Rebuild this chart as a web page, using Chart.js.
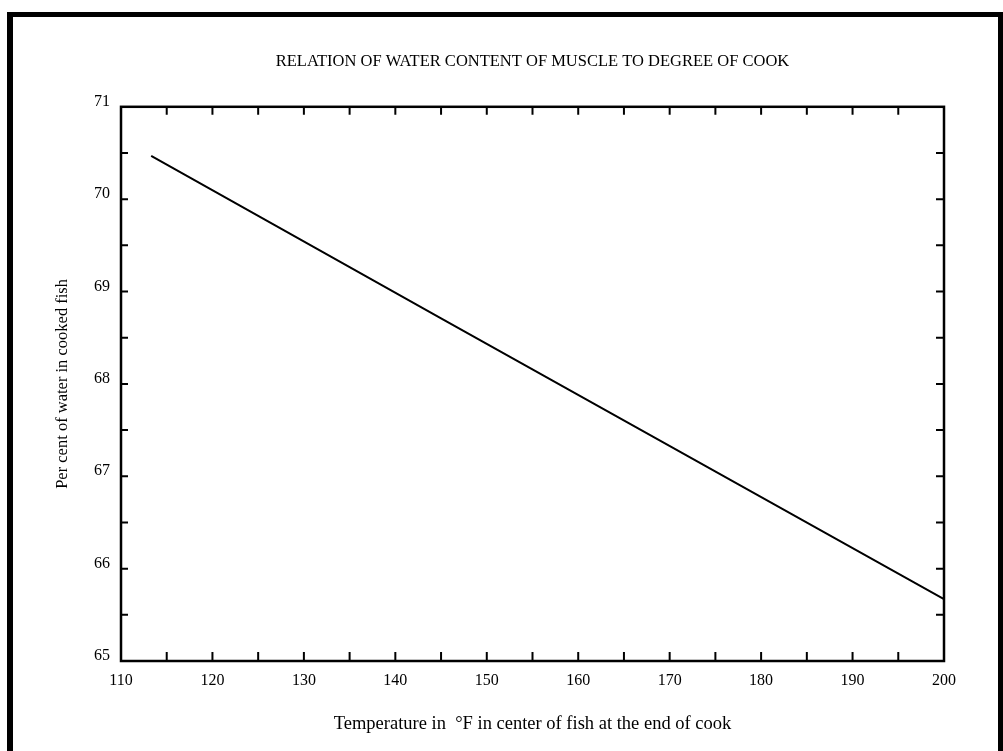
<!DOCTYPE html>
<html>
<head>
<meta charset="utf-8">
<script src="https://cdn.jsdelivr.net/npm/chart.js@4.4.1/dist/chart.umd.min.js"></script>
<style>
  html, body { margin: 0; padding: 0; background: #fff; }
  #wrap { width: 1003px; height: 751px; position: relative; }
</style>
</head>
<body>
<div id="wrap"><canvas id="chart" width="1003" height="751"></canvas></div>
<script>
// Values
const temperatureF = [113.3, 145, 200];
const waterPct = [70.47, 68.71, 65.67];

const xTickLabels = [110, 120, 130, 140, 150, 160, 170, 180, 190, 200];
const yTickLabels = [65, 66, 67, 68, 69, 70, 71];
const xMinorTicks = [115, 120, 125, 130, 135, 140, 145, 150, 155, 160, 165, 170, 175, 180, 185, 190, 195];
const yMinorTicks = [65.5, 66, 66.5, 67, 67.5, 68, 68.5, 69, 69.5, 70, 70.5];

const FONT = "'Liberation Serif', 'DejaVu Serif', serif";

// Page frame + inward ticks + plot box
const framePlugin = {
    id: 'frame',
    beforeDraw: (chart) => {
        const ctx = chart.ctx;
        ctx.save();
        ctx.fillStyle = '#fff';
        ctx.fillRect(0, 0, chart.width, chart.height);
        ctx.fillStyle = '#000';
        ctx.fillRect(7, 12, 6, chart.height - 12);
        ctx.fillRect(7, 12, chart.width - 7, 5);
        ctx.fillRect(chart.width - 5, 12, 5, chart.height - 12);
        ctx.restore();
    },
    afterDraw: (chart) => {
        const ctx = chart.ctx;
        const area = chart.chartArea;
        const xs = chart.scales.x;
        const ys = chart.scales.y;
        ctx.save();
        ctx.strokeStyle = '#000';
        ctx.lineWidth = 2.5;
        ctx.strokeRect(area.left, area.top, area.right - area.left, area.bottom - area.top);
        ctx.lineWidth = 2;
        ctx.beginPath();
        xMinorTicks.forEach(v => {
            const px = xs.getPixelForValue(v);
            ctx.moveTo(px, area.bottom);
            ctx.lineTo(px, area.bottom - 9);
            ctx.moveTo(px, area.top);
            ctx.lineTo(px, area.top + 8);
        });
        yMinorTicks.forEach(v => {
            const py = ys.getPixelForValue(v);
            ctx.moveTo(area.left, py);
            ctx.lineTo(area.left + 7, py);
            ctx.moveTo(area.right, py);
            ctx.lineTo(area.right - 8, py);
        });
        ctx.stroke();
        ctx.restore();
    }
};

const ctx = document.getElementById('chart').getContext('2d');
new Chart(ctx, {
    type: 'scatter',
    data: {
        datasets: [{
            label: 'Water content',
            data: temperatureF.map((t, i) => ({ x: t, y: waterPct[i] })),
            showLine: true,
            borderColor: '#000',
            borderWidth: 2,
            pointRadius: 0,
            fill: false,
            tension: 0,
        }],
    },
    options: {
        responsive: false,
        animation: false,
        layout: { padding: { left: 0, right: 59, top: 0, bottom: 0 } },
        plugins: {
            legend: { display: false },
            tooltip: { enabled: false },
            title: {
                display: true,
                fullSize: false,
                text: 'RELATION OF WATER CONTENT OF MUSCLE TO DEGREE OF COOK',
                color: '#000',
                font: { family: FONT, size: 16.5, weight: 'normal' },
                padding: { top: 52, bottom: 35 },
            },
        },
        scales: {
            x: {
                type: 'linear',
                min: 110,
                max: 200,
                afterBuildTicks: (scale) => { scale.ticks = xTickLabels.map(v => ({ value: v })); },
                afterFit: (scale) => { scale.height = 90; },
                grid: { display: false, drawTicks: false },
                border: { display: false },
                ticks: {
                    color: '#000',
                    font: { family: FONT, size: 16 },
                    padding: 10,
                    maxRotation: 0,
                },
                title: {
                    display: true,
                    text: 'Temperature in  °F in center of fish at the end of cook',
                    color: '#000',
                    font: { family: FONT, size: 18.5 },
                    padding: { top: 0, bottom: 16 },
                },
            },
            y: {
                type: 'linear',
                min: 65,
                max: 71,
                afterBuildTicks: (scale) => { scale.ticks = yTickLabels.map(v => ({ value: v })); },
                afterFit: (scale) => { scale.width = 121; },
                grid: { display: false, drawTicks: false },
                border: { display: false },
                ticks: {
                    color: '#000',
                    font: { family: FONT, size: 16 },
                    padding: 11,
                    labelOffset: -5,
                },
                title: {
                    display: true,
                    text: 'Per cent of water in cooked fish',
                    color: '#000',
                    font: { family: FONT, size: 16.5 },
                    padding: { top: 53, bottom: 0 },
                },
            },
        },
    },
    plugins: [framePlugin],
});
</script>
</body>
</html>
